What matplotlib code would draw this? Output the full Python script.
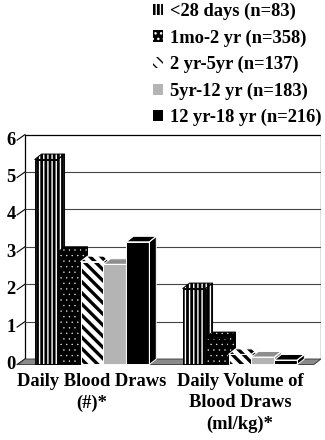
import matplotlib
matplotlib.use('Agg')
import matplotlib.pyplot as plt
from matplotlib.patches import Polygon, Patch

plt.rcParams['font.family'] = ['Liberation Serif', 'DejaVu Serif']
plt.rcParams['font.weight'] = 'bold'

# age groups and their means for the two measures
age_groups = ['<28 days (n=83)', '1mo-2 yr (n=358)', '2 yr-5yr (n=137)',
              '5yr-12 yr (n=183)', '12 yr-18 yr (n=216)']
daily_draws = [5.48, 3.0, 2.75, 2.68, 3.28]      # number of draws per day
daily_volume = [2.03, 0.72, 0.27, 0.2, 0.12]     # ml/kg per day
measures = ['Daily Blood Draws\n(#)*', 'Daily Volume of\nBlood Draws\n(ml/kg)*']
yticks = [0, 1, 2, 3, 4, 5, 6]

# face colour, hatch colour, hatch, outline, hatch line width, top/side shade
styles = [
    dict(fc='black', hc='white', hatch='||||', ec='black', hlw=1.0, shade='black'),
    dict(fc='black', hc='white', hatch='...', ec='black', hlw=0.2, shade='black'),
    dict(fc='white', hc='black', hatch='\\\\\\', ec='white', hlw=2.4, shade='white'),
    dict(fc='#b4b4b4', hc='#b4b4b4', hatch=None, ec='white', hlw=1.0, shade='#8e8e8e'),
    dict(fc='black', hc='black', hatch=None, ec='white', hlw=1.0, shade='black'),
]

width = 0.155
dx, dy = 0.047, 0.147   # depth offset of the 3-D look, in data units
x_lo, x_hi = -0.5, 1.5
fs = 13.3

fig = plt.figure(figsize=(3.25, 4.4), dpi=100)
ax = fig.add_axes([3.2 / 325, 0.1631, 318.2 / 325, 0.544])
ax.set_xlim(-0.6, 1.55)
ax.set_ylim(-0.1, 6.3)
ax.axis('off')


def hatch_lw(p, lw):
    if hasattr(p, 'set_hatch_linewidth'):
        p.set_hatch_linewidth(lw)


# back wall with gridlines
top = yticks[-1]
ax.plot([x_lo + dx, x_lo + dx, x_hi + dx, x_hi + dx],
        [dy, top + dy, top + dy, dy], color='black', lw=0.9, zorder=1)
for t in yticks[1:-1]:
    ax.plot([x_lo + dx, x_hi + dx], [t + dy, t + dy], color='#444444', lw=0.8, zorder=1)
for t in yticks:
    ax.plot([x_lo - 0.006, x_lo + dx], [t, t + dy], color='black', lw=0.8, zorder=1)
    ax.text(-0.547, t, str(t), ha='center', va='center', fontsize=fs)

# floor
ax.add_patch(Polygon([(x_lo, 0), (x_hi, 0), (x_hi + dx, dy), (x_lo + dx, dy)],
                     closed=True, fc='#8a8a8a', ec='#333333', lw=0.6, zorder=2))

handles = []
for i, (name, st) in enumerate(zip(age_groups, styles)):
    vals = [daily_draws[i], daily_volume[i]]
    xs = [g + (i - 2) * width for g in range(len(measures))]
    z = 3 + i
    bars = ax.bar(xs, vals, width, color=st['fc'], edgecolor=st['hc'],
                  hatch=st['hatch'], linewidth=0, zorder=z)
    for b in bars:
        hatch_lw(b, st['hlw'])
    for x, v in zip(xs, vals):
        x0, x1 = x - width / 2, x + width / 2
        topf = [(x0, v), (x1, v), (x1 + dx, v + dy), (x0 + dx, v + dy)]
        side = [(x1, 0), (x1 + dx, dy), (x1 + dx, v + dy), (x1, v)]
        front = [(x0, 0), (x1, 0), (x1, v), (x0, v)]
        for verts in (topf, side):
            fc = st['fc'] if st['hatch'] else st['shade']
            p = Polygon(verts, closed=True, fc=fc, ec=st['hc'],
                        hatch=st['hatch'], lw=0, zorder=z)
            hatch_lw(p, st['hlw'])
            ax.add_patch(p)
        for verts in (front, topf, side):
            ax.add_patch(Polygon(verts, closed=True, fill=False, ec=st['ec'],
                                 lw=0.7, zorder=z + 0.5))
    h = Patch(facecolor=st['fc'], edgecolor=st['hc'], hatch=st['hatch'], lw=0)
    hatch_lw(h, st['hlw'])
    handles.append(h)

for g, label in enumerate(measures):
    ax.text(g, -0.22, label, ha='center', va='top', fontsize=fs,
            linespacing=1.36, clip_on=False)

fig.legend(handles, age_groups, loc='upper left', bbox_to_anchor=(150 / 325, 1.0),
           frameon=False, fontsize=fs, handlelength=0.55, handleheight=0.55,
           handletextpad=0.4, labelspacing=0.5, borderaxespad=0.1, borderpad=0.05)

fig.savefig('out.png', dpi=100)
